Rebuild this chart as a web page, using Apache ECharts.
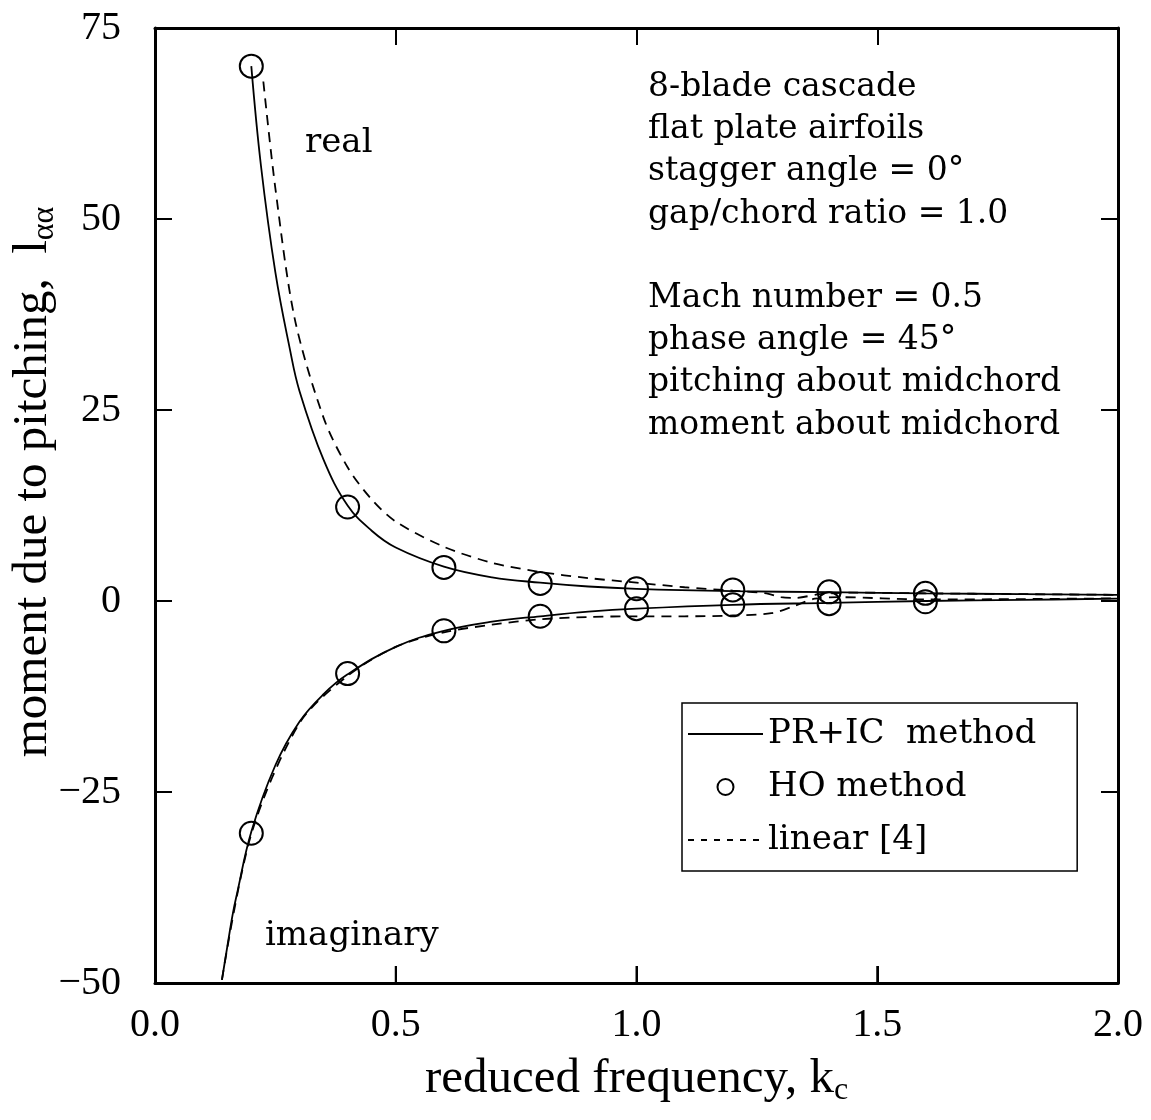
<!DOCTYPE html>
<html>
<head>
  <meta charset="utf-8">
  <style>
    html, body { margin: 0; padding: 0; background: #fff; }
    #main { width: 1151px; height: 1120px; }
  </style>
</head>
<body>
  <div id="main"></div>
</body>
<script src="https://cdn.jsdelivr.net/npm/echarts@6/dist/echarts.min.js"></script>
<script>
  // PR+IC method (solid)
  var kPrReal = [0.2, 0.22, 0.25, 0.28, 0.3, 0.35, 0.4, 0.45, 0.5, 0.6, 0.7, 0.8, 0.9, 1.0, 1.2, 1.4, 1.6, 1.8, 2.0];
  var prReal  = [70, 57, 43, 33, 27.5, 18.5, 12.5, 9.2, 7.0, 4.5, 3.1, 2.4, 1.9, 1.6, 1.3, 1.15, 1.0, 0.9, 0.8];
  var kPrImag = [0.139, 0.15, 0.162, 0.17, 0.2, 0.25, 0.3, 0.35, 0.4, 0.5, 0.6, 0.7, 0.8, 0.9, 1.0, 1.2, 1.4, 1.6, 1.8, 2.0];
  var prImag  = [-49.6, -45.3, -40.8, -38.4, -30.2, -21.5, -15.8, -12.2, -9.6, -6.0, -3.9, -2.7, -2.0, -1.4, -1.0, -0.5, -0.25, 0.0, 0.15, 0.3];

  // linear [4] (dashed)
  var kLinReal = [0.225, 0.25, 0.29, 0.35, 0.4, 0.45, 0.5, 0.6, 0.7, 0.8, 0.9, 1.0, 1.1, 1.2, 1.27, 1.3, 1.33, 1.38, 1.45, 1.6, 1.8, 2.0];
  var linReal  = [68, 54, 37, 24, 17.5, 13.3, 10.4, 7.1, 5.0, 3.8, 3.0, 2.4, 1.8, 1.35, 1.0, 0.5, 0.4, 0.9, 1.1, 1.0, 0.9, 0.8];
  var kLinImag = [0.139, 0.2, 0.3, 0.4, 0.5, 0.6, 0.7, 0.8, 0.9, 1.0, 1.1, 1.2, 1.28, 1.33, 1.37, 1.42, 1.6, 1.8, 2.0];
  var linImag  = [-49.6, -30.5, -16.0, -9.8, -6.0, -4.1, -3.1, -2.4, -2.1, -2.0, -2.0, -1.9, -1.6, -0.6, 0.3, 0.5, 0.2, 0.25, 0.35];

  // HO method (circles)
  var kHo    = [0.2, 0.4, 0.6, 0.8, 1.0, 1.2, 1.4, 1.6];
  var hoReal = [70, 12.3, 4.4, 2.3, 1.6, 1.45, 1.2, 1.0];
  var hoImag = [-30.4, -9.5, -3.9, -2.0, -1.0, -0.5, -0.35, -0.1];

  // major ticks
  var xTicks = [0.5, 1.0, 1.5];
  var yTicks = [-25, 0, 25, 50];
  var xMin = 0, xMax = 2, yMin = -50, yMax = 75;

  var noteTop = ['8-blade cascade', 'flat plate airfoils', 'stagger angle = 0°', 'gap/chord ratio = 1.0'];
  var noteBottom = ['Mach number = 0.5', 'phase angle = 45°', 'pitching about midchord', 'moment about midchord'];

  function zip(xs, ys) {
    return xs.map(function(x, i) { return [x, ys[i]]; });
  }

  var serif = 'Liberation Serif';
  var wide = 'DejaVu Serif';
  var tickLen = 17;

  var chart = echarts.init(document.getElementById('main'));

  function ticks() {
    return { show: true, inside: true, length: tickLen, lineStyle: { color: '#000', width: 2 } };
  }
  function axisLine() {
    return { show: true, onZero: false, lineStyle: { color: '#000', width: 3 } };
  }
  var hideLegendDot = { opacity: 0 };
  var box = { left: 155, right: 33, top: 28, bottom: 137, outerBoundsMode: 'none' };

  // inward ticks on the bottom and left edges, placed through the axes' own scales
  function renderBottomTick(params, api) {
    var p = api.coord([api.value(0), yMin]);
    return {
      type: 'line',
      shape: { x1: p[0], y1: p[1], x2: p[0], y2: p[1] - tickLen },
      style: { stroke: '#000', lineWidth: 2 }
    };
  }
  function renderLeftTick(params, api) {
    var p = api.coord([xMin, api.value(1)]);
    return {
      type: 'line',
      shape: { x1: p[0], y1: p[1], x2: p[0] + tickLen, y2: p[1] },
      style: { stroke: '#000', lineWidth: 2 }
    };
  }

  chart.setOption({
    backgroundColor: '#fff',
    animation: false,
    // grid 0 carries data and labels; grid 1 (same box) mirrors the frame on top and right
    grid: [box, box],
    xAxis: [{
      gridIndex: 0, type: 'value', position: 'bottom', min: xMin, max: xMax, interval: 0.5,
      axisLine: axisLine(), axisTick: ticks(), splitLine: { show: false },
      axisLabel: {
        margin: 22, color: '#000', fontFamily: serif, fontSize: 40,
        formatter: function(v) { return v.toFixed(1); }
      },
      name: 'reduced frequency, k{s|c}',
      nameLocation: 'middle', nameGap: 68,
      nameTextStyle: {
        color: '#000', fontFamily: serif, fontSize: 49,
        rich: { s: { fontFamily: serif, fontSize: 32, color: '#000', padding: [24, 0, 0, 0] } }
      }
    }, {
      gridIndex: 1, type: 'value', position: 'top', min: xMin, max: xMax, interval: 0.5,
      axisLine: axisLine(), axisTick: ticks(), axisLabel: { show: false }, splitLine: { show: false }
    }],
    yAxis: [{
      gridIndex: 0, type: 'value', position: 'left', min: yMin, max: yMax, interval: 25,
      axisLine: axisLine(), axisTick: ticks(), splitLine: { show: false },
      axisLabel: {
        margin: 34, color: '#000', fontFamily: serif, fontSize: 40,
        formatter: function(v) { return v < 0 ? '\u2212' + Math.abs(v) : String(v); }
      }
    }, {
      gridIndex: 1, type: 'value', position: 'right', min: yMin, max: yMax, interval: 25,
      axisLine: axisLine(), axisTick: ticks(), axisLabel: { show: false }, splitLine: { show: false }
    }],
    legend: {
      orient: 'vertical', left: 682, top: 703,
      padding: [14, 41, 14, 5],
      borderColor: '#000', borderWidth: 1.5,
      itemWidth: 75, itemHeight: 16, itemGap: 19,
      textStyle: { fontFamily: wide, fontSize: 34, color: '#000' },
      data: [
        { name: 'PR+IC  method', itemStyle: hideLegendDot },
        { name: 'HO method' },
        { name: 'linear [4]', itemStyle: hideLegendDot, lineStyle: { type: [6, 7] } }
      ]
    },
    series: [
      {
        name: 'PR+IC  method', type: 'line', data: zip(kPrReal, prReal),
        smooth: 0.4, symbol: 'none',
        lineStyle: { color: '#000', width: 1.8 }, itemStyle: { color: '#000' }
      },
      {
        name: 'PR+IC  method', type: 'line', data: zip(kPrImag, prImag),
        smooth: 0.4, symbol: 'none',
        lineStyle: { color: '#000', width: 1.8 }, itemStyle: { color: '#000' }
      },
      {
        name: 'linear [4]', type: 'line', data: zip(kLinReal, linReal),
        smooth: 0.3, symbol: 'none',
        lineStyle: { color: '#000', width: 1.8, type: [10, 7] }, itemStyle: { color: '#000' }
      },
      {
        name: 'linear [4]', type: 'line', data: zip(kLinImag, linImag),
        smooth: 0.3, symbol: 'none',
        lineStyle: { color: '#000', width: 1.8, type: [10, 7] }, itemStyle: { color: '#000' }
      },
      {
        name: 'HO method', type: 'scatter', data: zip(kHo, hoReal), z: 5,
        symbol: 'circle', symbolSize: 23,
        itemStyle: { color: 'rgba(0,0,0,0)', borderColor: '#000', borderWidth: 2, opacity: 1 }
      },
      {
        name: 'HO method', type: 'scatter', data: zip(kHo, hoImag), z: 5,
        symbol: 'circle', symbolSize: 23,
        itemStyle: { color: 'rgba(0,0,0,0)', borderColor: '#000', borderWidth: 2, opacity: 1 }
      },
      {
        type: 'custom', silent: true, z: 6, clip: false,
        data: xTicks.map(function(v) { return [v, yMin]; }),
        renderItem: renderBottomTick
      },
      {
        type: 'custom', silent: true, z: 6, clip: false,
        data: yTicks.map(function(v) { return [xMin, v]; }),
        renderItem: renderLeftTick
      }
    ],
    graphic: [
      {
        type: 'text', x: 33, y: 482, rotation: Math.PI / 2,
        style: {
          text: 'moment due to pitching,  l{s|αα}',
          font: '49px "Liberation Serif"', fill: '#000', align: 'center', verticalAlign: 'middle',
          rich: { s: { font: '32px "Liberation Serif"', fill: '#000', padding: [24, 0, 0, 0] } }
        }
      },
      {
        type: 'text', left: 648, top: 66,
        style: { text: noteTop.join('\n'), font: '33px "DejaVu Serif"', fill: '#000', lineHeight: 42.3 }
      },
      {
        type: 'text', left: 648, top: 277,
        style: { text: noteBottom.join('\n'), font: '33px "DejaVu Serif"', fill: '#000', lineHeight: 42.3 }
      },
      {
        type: 'text', left: 305, top: 126,
        style: { text: 'real', font: '34px "DejaVu Serif"', fill: '#000' }
      },
      {
        type: 'text', left: 265, top: 919,
        style: { text: 'imaginary', font: '34px "DejaVu Serif"', fill: '#000' }
      }
    ]
  });
</script>
</html>
